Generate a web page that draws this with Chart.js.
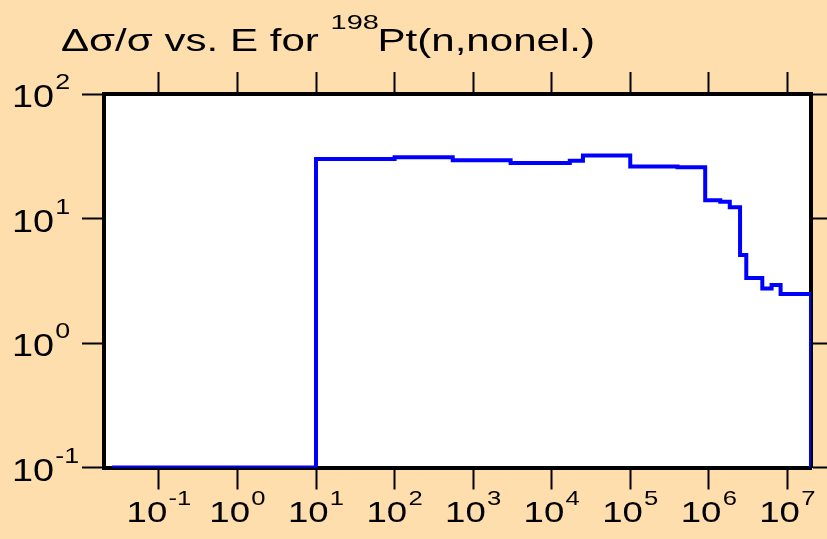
<!DOCTYPE html>
<html>
<head>
<meta charset="utf-8">
<title>Pt-198 (n,nonel.) relative uncertainty</title>
<script src="https://cdn.jsdelivr.net/npm/chart.js@4.4.1/dist/chart.umd.min.js"></script>
<style>
  html, body { margin: 0; padding: 0; background: #ffdead; overflow: hidden; }
  #wrap { width: 827px; height: 539px; }
</style>
</head>
<body>
<div id="wrap"><canvas id="xsChart" width="827" height="539"></canvas></div>
<script>
// ── DATA ──────────────────────────────────────────────────────────────────────

// group boundaries (eV) and relative uncertainty (%) held from each boundary to the next
const ENERGY  = [0.0253, 10, 100, 550, 3000, 17000, 25000, 1e5, 4e5, 9e5, 1.4e6, 1.85e6, 2.5e6, 3e6, 4.8e6, 6.3e6, 8.2e6, 2e7];
const REL_UNC = [0.1, 30.0, 31.0, 29.3, 27.9, 29.1, 32.1, 26.2, 25.8, 14.0, 13.6, 12.3, 5.1, 3.33, 2.74, 2.92, 2.48, 0.1];

const X_DECADES = [-1, 0, 1, 2, 3, 4, 5, 6, 7];
const Y_DECADES = [-1, 0, 1, 2];
const X_RANGE = [0.02, 2e7];
const Y_RANGE = [0.1, 100];

const TITLE_PARTS = ['\u0394\u03c3/\u03c3 vs. E for ', '198', 'Pt(n,nonel.)'];

// ── STYLE ─────────────────────────────────────────────────────────────────────

const FONT = 'Arial, "Liberation Sans", Helvetica, sans-serif';
const STRETCH = 1.22;        // tick labels are drawn a little wide
const TITLE_STRETCH = 1.38;

function decadeTicks(exps) {
  return scale => { scale.ticks = exps.map(e => ({ value: Math.pow(10, e) })); };
}

function logAxis(position, range, exps, tickLen) {
  return {
    type: 'logarithmic',
    position,
    min: range[0],
    max: range[1],
    afterBuildTicks: decadeTicks(exps),
    ticks: { display: false },
    grid: { display: true, drawOnChartArea: false, drawTicks: true, tickLength: tickLen, tickWidth: 2, tickColor: '#000', color: '#000' },
    border: { display: true, width: 4, color: '#000' },
  };
}

// "10" with a raised exponent, widened by STRETCH
function drawPower(ctx, x, y, exp, baseSize, supSize, rise, centred) {
  const es = String(exp);
  ctx.font = `${baseSize}px ${FONT}`;
  const wb = ctx.measureText('10').width;
  ctx.font = `${supSize}px ${FONT}`;
  const we = ctx.measureText(es).width;
  const x0 = centred ? x - (wb + we + 1) * STRETCH / 2 : x;
  ctx.save();
  ctx.translate(x0, y);
  ctx.scale(STRETCH, 1);
  ctx.font = `${baseSize}px ${FONT}`;
  ctx.fillText('10', 0, 0);
  ctx.font = `${supSize}px ${FONT}`;
  ctx.fillText(es, wb + 1, -rise);
  ctx.restore();
}

const frameLabels = {
  id: 'frameLabels',
  beforeDraw(chart) {
    const { ctx, chartArea: a } = chart;
    ctx.save();
    ctx.fillStyle = '#ffffff';
    ctx.fillRect(a.left, a.top, a.right - a.left, a.bottom - a.top);
    ctx.restore();
  },
  afterDraw(chart) {
    const { ctx, chartArea: a } = chart;
    const xs = chart.scales.x, ys = chart.scales.y;
    ctx.save();
    ctx.fillStyle = '#000';
    ctx.textBaseline = 'alphabetic';
    ctx.textAlign = 'left';

    X_DECADES.forEach(e => {
      drawPower(ctx, xs.getPixelForValue(Math.pow(10, e)), a.bottom + 54, e, 30, 21, 17, true);
    });
    Y_DECADES.forEach(e => {
      drawPower(ctx, a.left - 92, ys.getPixelForValue(Math.pow(10, e)) + 13, e, 31, 22, 18, false);
    });

    // title with superscript mass number
    ctx.save();
    ctx.translate(61, 51);
    ctx.scale(TITLE_STRETCH, 1);
    ctx.font = `30.5px ${FONT}`;
    ctx.fillText(TITLE_PARTS[0], 0, 0);
    let cx = ctx.measureText(TITLE_PARTS[0]).width;
    ctx.font = `21px ${FONT}`;
    ctx.fillText(TITLE_PARTS[1], cx, -22);
    cx += ctx.measureText(TITLE_PARTS[1]).width - 1;
    ctx.font = `30.5px ${FONT}`;
    ctx.fillText(TITLE_PARTS[2], cx, 0);
    ctx.restore();

    ctx.restore();
  },
};

// ── CHART ─────────────────────────────────────────────────────────────────────

new Chart(document.getElementById('xsChart').getContext('2d'), {
  type: 'line',
  data: {
    datasets: [{
      data: ENERGY.map((e, i) => ({ x: e, y: REL_UNC[i] })),
      borderColor: '#0000ff',
      borderWidth: 4,
      pointRadius: 0,
      fill: false,
      stepped: true,
      xAxisID: 'x',
      yAxisID: 'y',
    }],
  },
  options: {
    responsive: false,
    animation: false,
    devicePixelRatio: 1,
    layout: { padding: { left: 82, right: 0, top: 72, bottom: 49.5 } },
    plugins: { legend: { display: false }, tooltip: { enabled: false }, title: { display: false } },
    scales: {
      x:  logAxis('bottom', X_RANGE, X_DECADES, 22),
      x2: logAxis('top',    X_RANGE, X_DECADES, 22),
      y:  logAxis('left',   Y_RANGE, Y_DECADES, 22),
      y2: logAxis('right',  Y_RANGE, Y_DECADES, 16),
    },
  },
  plugins: [frameLabels],
});
</script>
</body>
</html>
